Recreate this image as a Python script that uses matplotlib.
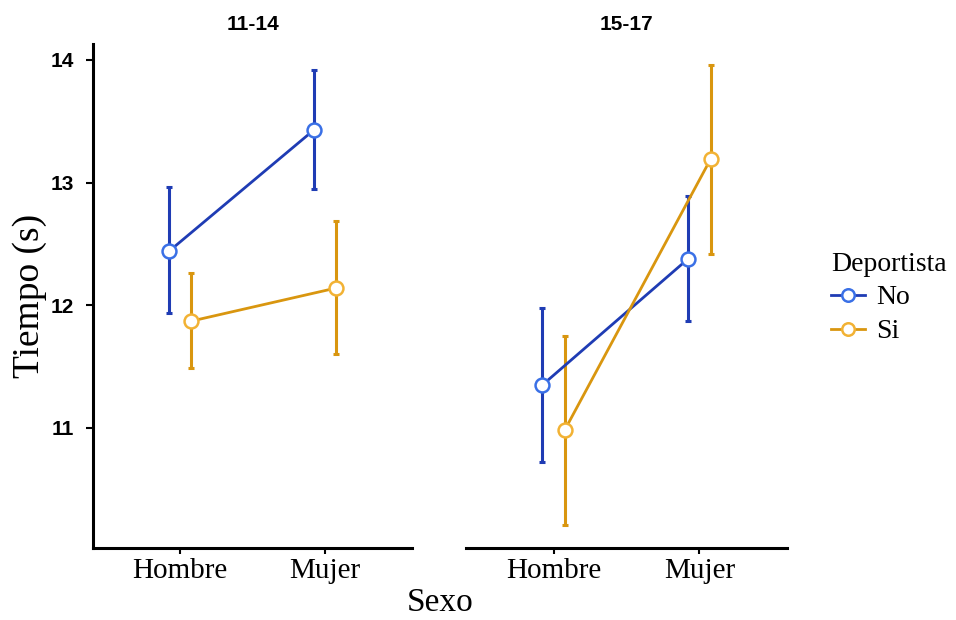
import numpy as np
import matplotlib.pyplot as plt
from matplotlib.lines import Line2D

# Medias y limites de los intervalos por grupo de edad
sexo = ["Hombre", "Mujer"]
grupos = ["11-14", "15-17"]

no_media = {"11-14": [12.44, 13.43], "15-17": [11.35, 12.38]}
no_sup = {"11-14": [12.96, 13.92], "15-17": [11.98, 12.89]}
no_inf = {"11-14": [11.94, 12.95], "15-17": [10.72, 11.87]}

si_media = {"11-14": [11.87, 12.14], "15-17": [10.98, 13.19]}
si_sup = {"11-14": [12.26, 12.69], "15-17": [11.75, 13.96]}
si_inf = {"11-14": [11.49, 11.60], "15-17": [10.21, 12.42]}

y_ticks = [11, 12, 13, 14]

serif = "Liberation Serif"
sans = "Liberation Sans"

azul_linea = "#1f3cb4"
azul_punto = "#3a70e6"
naranja_linea = "#d9960f"
naranja_punto = "#f2b234"

fig = plt.figure(figsize=(9.56, 6.2), dpi=100)
ax1 = fig.add_axes([0.0973, 0.1161, 0.3337, 0.8129])
ax2 = fig.add_axes([0.4874, 0.1161, 0.3358, 0.8129])

x = np.arange(1, len(sexo) + 1)
dodge = 0.076

def serie(ax, xs, media, sup, inf, c_linea, c_punto):
    media = np.array(media)
    err = [media - np.array(inf), np.array(sup) - media]
    ax.errorbar(xs, media, yerr=err, fmt="none", ecolor=c_linea,
                elinewidth=2.2, capsize=2, capthick=2.2, zorder=2)
    ax.plot(xs, media, color=c_linea, lw=2.0, zorder=3)
    ax.plot(xs, media, "o", ms=10, mfc="white", mec=c_punto, mew=1.8, zorder=4)

for ax, g in zip([ax1, ax2], grupos):
    serie(ax, x - dodge, no_media[g], no_sup[g], no_inf[g], azul_linea, azul_punto)
    serie(ax, x + dodge, si_media[g], si_sup[g], si_inf[g], naranja_linea, naranja_punto)
    ax.set_xlim(0.4, 2.6)
    ax.set_ylim(10.02, 14.13)
    ax.set_xticks(x)
    ax.set_xticklabels(sexo, fontfamily=serif, fontsize=21)
    ax.set_title(g, fontfamily=sans, fontweight="bold", fontsize=15, pad=10)
    for s in ["top", "right"]:
        ax.spines[s].set_visible(False)
    ax.spines["bottom"].set_linewidth(2.2)
    ax.spines["left"].set_linewidth(2.2)
    ax.tick_params(axis="x", length=4, width=1.5, pad=3)

ax1.set_yticks(y_ticks)
ax1.set_yticklabels([str(t) for t in y_ticks], fontfamily=sans,
                    fontweight="bold", fontsize=15)
ax1.tick_params(axis="y", length=5, width=1.5, pad=9)
ax1.set_ylabel("Tiempo (s)", fontfamily=serif, fontsize=27, labelpad=2)

ax2.spines["left"].set_visible(False)
ax2.set_yticks([])

fig.text(0.46, 0.015, "Sexo", fontfamily=serif, fontsize=24, ha="center")

handles = [
    Line2D([], [], color=azul_linea, lw=2.0, marker="o", ms=9,
           mfc="white", mec=azul_punto, mew=1.8),
    Line2D([], [], color=naranja_linea, lw=2.0, marker="o", ms=9,
           mfc="white", mec=naranja_punto, mew=1.8),
]
leg = fig.legend(handles, ["No", "Si"], title="Deportista", loc="upper left",
                 bbox_to_anchor=(0.858, 0.612), frameon=False,
                 prop={"family": serif, "size": 20}, handlelength=1.2,
                 handletextpad=0.4, labelspacing=0.3, borderaxespad=0)
leg.get_title().set_fontfamily(serif)
leg.get_title().set_fontsize(20)
leg._legend_box.align = "left"

fig.savefig("out.png", dpi=100)
